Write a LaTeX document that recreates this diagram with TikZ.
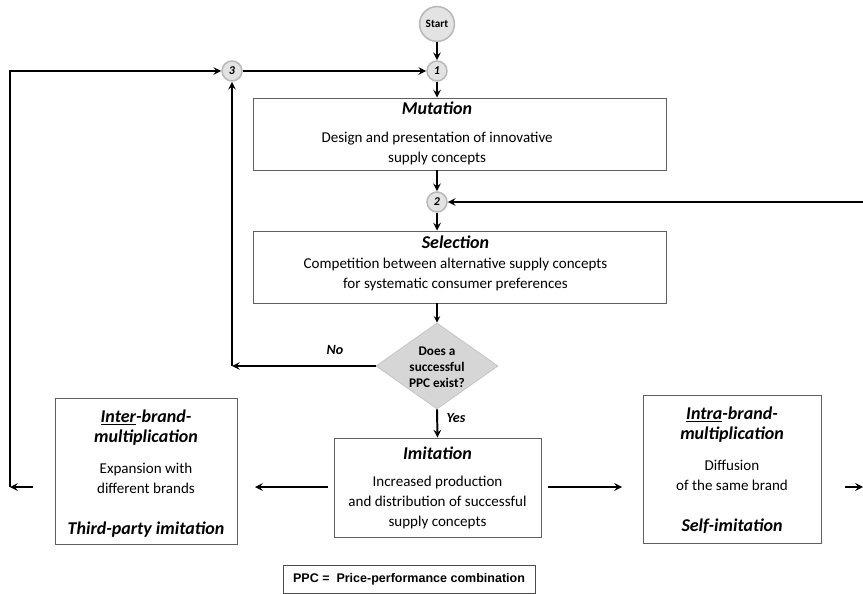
\documentclass[tikz,border=0pt]{standalone}
\usepackage{fontspec}
\usetikzlibrary{shapes.geometric}
\setmainfont{Carlito}
\newfontfamily\ppcfont{Liberation Sans}
\newcommand{\boxtitle}[1]{{\fontsize{12.8}{14.2}\selectfont\bfseries\itshape #1}}

\begin{document}
\begin{tikzpicture}[
    box/.style={rectangle, draw=gray!75!black, line width=0.7pt, inner sep=0pt},
    boxtext/.style={align=center, font=\fontsize{10.7}{14.2}\selectfont},
    conn/.style={circle, draw=gray!55, fill=gray!22, line width=1.1pt, inner sep=0pt, minimum size=0.5cm, font=\fontsize{8.5}{9}\selectfont\bfseries\itshape},
    decision/.style={diamond, draw=gray!45, fill=gray!32, line width=0.6pt, inner sep=0pt, minimum width=3.05cm, minimum height=2.15cm},
    arrow/.style={->, >=stealth, line width=1.4pt},
    tag/.style={font=\fontsize{10}{12}\selectfont\bfseries\itshape}
]
\useasboundingbox (0,0) rectangle (21.575,-14.85);

% Start and connectors
\node[conn, minimum size=0.87cm, font=\fontsize{8}{9}\selectfont\bfseries] (start) at (10.925,-0.6) {Start};
\node[conn] (c1) at (10.925,-1.775) {1};
\node[conn] (c3) at (5.8,-1.775) {3};
\node[conn] (c2) at (10.925,-5.05) {2};

% Mutation
\node[box, minimum width=10.325cm, minimum height=1.8cm] (mut) at (11.4875,-3.35) {};
\node[boxtext] (muttext) at ([xshift=-0.56cm, yshift=0.02cm]mut.center) {\boxtitle{Mutation}\\[5.8pt] Design and presentation of innovative\\ supply concepts};

% Selection
\node[box, minimum width=10.325cm, minimum height=1.8cm] (sel) at (11.4875,-6.675) {};
\node[boxtext] (seltext) at ([xshift=-0.1cm, yshift=0.1cm]sel.center) {\boxtitle{Selection}\\ Competition between alternative supply concepts\\ for systematic consumer preferences};

% Decision
\node[decision] (dec) at (10.925,-9.15) {};
\node[align=center, font=\fontsize{9.4}{11.4}\selectfont\bfseries] (dectext) at ([yshift=-0.03cm]dec.center) {Does a\\ successful\\ PPC exist?};
\node[tag] (no) at (8.375,-8.75) {No};
\node[tag] (yes) at (11.4,-10.45) {Yes};

% Imitation and multiplication
\node[box, minimum width=5.175cm, minimum height=2.475cm] (imi) at (10.9375,-12.1875) {};
\node[boxtext] (imitext) at ([yshift=-0.02cm]imi.center) {\boxtitle{Imitation}\\[5pt] Increased production\\ and distribution of successful\\ supply concepts};

\node[box, minimum width=4.55cm, minimum height=3.65cm] (inter) at (3.65,-11.775) {};
\node[boxtext] (intertext) at ([yshift=-0.06cm]inter.center) {\boxtitle{\underline{Inter}-brand-}\\ \boxtitle{multiplication}\\[7.8pt] Expansion with\\ different brands\\[15pt] \boxtitle{Third-party imitation}};

\node[box, minimum width=4.45cm, minimum height=3.7cm] (intra) at (18.3,-11.725) {};
\node[boxtext] (intratext) at ([yshift=-0.03cm]intra.center) {\boxtitle{\underline{Intra}-brand-}\\ \boxtitle{multiplication}\\[7.8pt] Diffusion\\ of the same brand\\[15pt] \boxtitle{Self-imitation}};

% Legend
\node[box, draw=gray!60!black, minimum width=6.3cm, minimum height=0.7cm, font=\ppcfont\bfseries\fontsize{8.9}{10}\selectfont] (ppc) at (10.225,-14.475) {PPC =\ \ Price-performance combination};

% Loose ends
\coordinate (ltop) at (0.25,-1.775);
\coordinate (lbot) at (0.25,-12.175);
\coordinate (lin) at (0.825,-12.175);
\coordinate (nocorner) at (5.8,-9.15);
\coordinate (rin) at (21.575,-5.05);
\coordinate (imwest) at (8.2,-12.175);
\coordinate (interend) at (6.375,-12.175);
\coordinate (imeast) at (13.7,-12.175);
\coordinate (intraend) at (15.55,-12.175);
\coordinate (rout) at (21.125,-12.175);
\coordinate (redge) at (21.575,-12.175);

% Arrows
\draw[arrow] (start) -- (c1);
\draw[arrow] (c1) -- (c1 |- mut.north);
\draw[arrow] (c2 |- mut.south) -- (c2);
\draw[arrow] (rin) -- (c2);
\draw[arrow] (c2) -- (c2 |- sel.north);
\draw[arrow, line width=1pt] (c2 |- sel.south) -- (dec.north);
\draw[arrow] (dec.west) -- (nocorner);
\draw[arrow] (nocorner) -- (c3);
\draw[arrow] (c3) -- (c1);
\draw[arrow] (dec.south) -- (imi.north);
\draw[arrow] (imwest) -- (interend);
\draw[arrow] (imeast) -- (intraend);
\draw[arrow] (rout) -- (redge);
\draw[arrow] (lin) -- (lbot);
\draw[arrow] (lbot) -- (ltop) -- (c3);
\end{tikzpicture}
\end{document}
